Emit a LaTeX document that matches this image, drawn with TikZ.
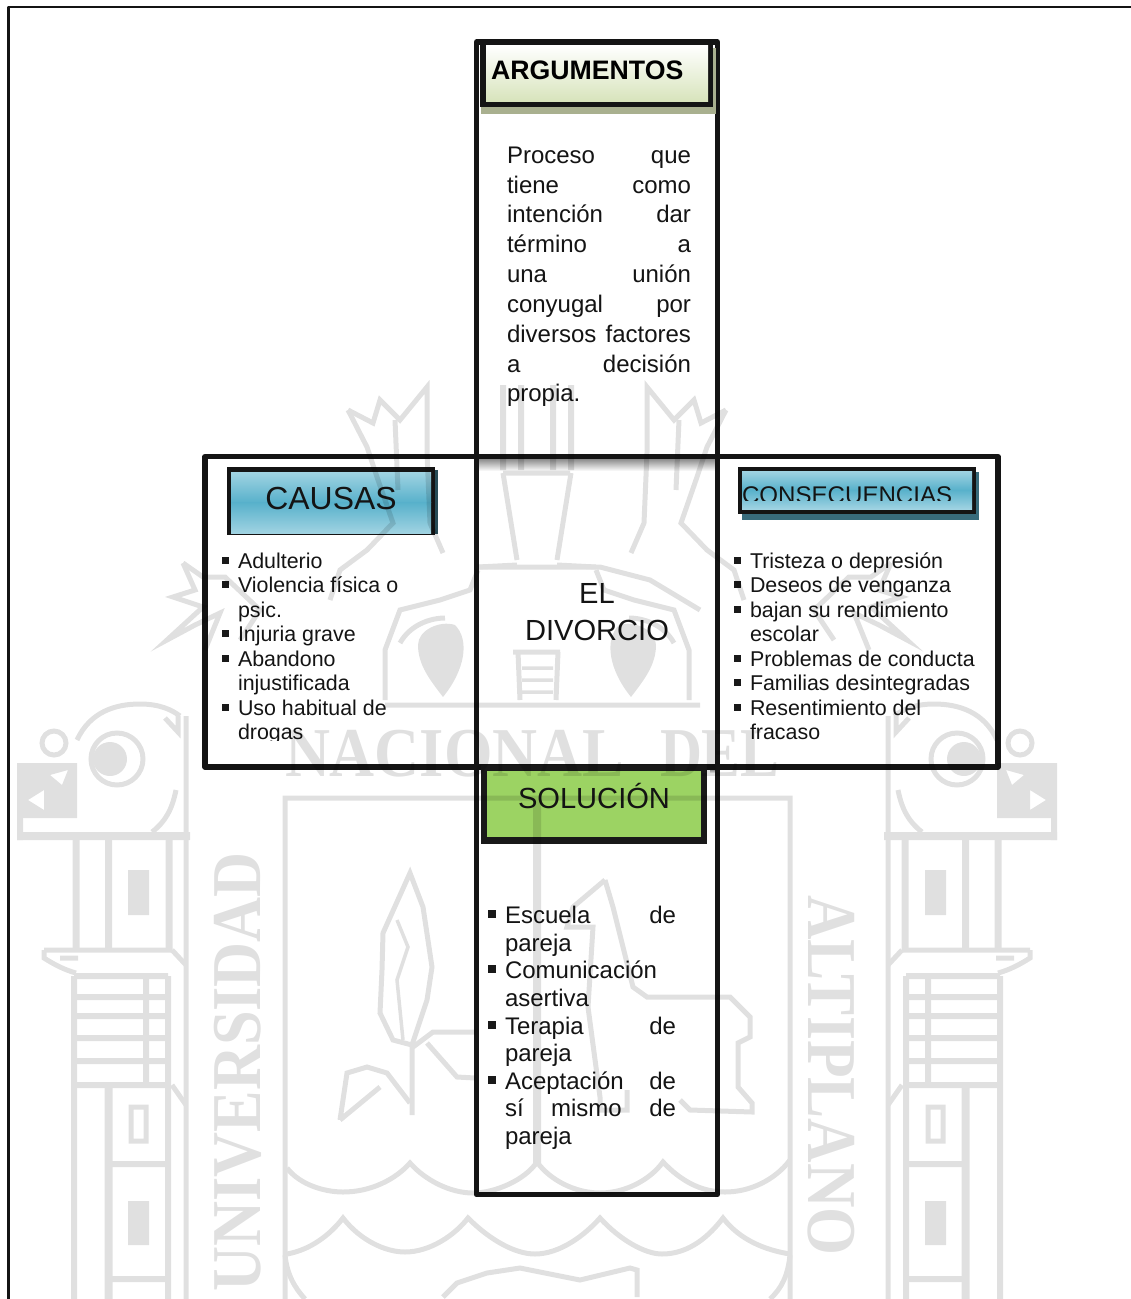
\documentclass[tikz,border=0pt]{standalone}
\usepackage{fontspec}
\setmainfont{Liberation Sans}
\newfontfamily\wmserif{Liberation Serif}
\tikzset{
  frameline/.style={draw=black!92,line width=5.2pt,line join=round},
  txt/.style={inner sep=0pt,outer sep=0pt,anchor=base west,text=black!92},
  cen/.style={inner sep=0pt,outer sep=0pt,anchor=base,text=black!92},
  listl/.style={txt,font=\fontsize{21.4}{24}\selectfont},
  paral/.style={txt,font=\fontsize{24}{28}\selectfont,text width=184pt,align=left},
  soll/.style={txt,font=\fontsize{24}{28}\selectfont,text width=171pt,align=left},
  blt/.style={fill=black!90,draw=none,inner sep=0pt,minimum size=7pt,rectangle},
  wm/.style={draw=black,line width=5pt,line join=miter},
  wmf/.style={fill=black,draw=none},
  wmt/.style={inner sep=0pt,outer sep=0pt,text=black,font=\wmserif\bfseries\fontsize{70}{70}\selectfont}
}
\definecolor{blueA}{HTML}{A0D3E2}
\definecolor{blueB}{HTML}{58B1CB}
\definecolor{oliveS}{HTML}{A9B08F}
\definecolor{olivE}{HTML}{D8E4BC}
\definecolor{tealS}{HTML}{386B7B}
\definecolor{greenS}{HTML}{9CD363}
\newcommand{\wmpillar}{%
  \draw[wm] (54,743) circle (12);
  \draw[wm] (117,759) circle (26);
  \fill[wmf] (110,759) circle (17);
  \fill[wmf,even odd rule] (17,763) rectangle (77,818) (28,800) -- (44,790) -- (44,810) -- cycle (50,775) -- (68,770) -- (62,785) -- cycle;
  \fill[wmf] (17,818) rectangle (23,840);
  \fill[wmf] (17,832) rectangle (190,840);
  \draw[wm] (77,740) .. controls (90,712) and (115,704) .. (140,704) .. controls (160,704) and (172,710) .. (180,716);
  \draw[wm] (165,718) -- (178,732) -- (178,716);
  \draw[wm] (176,790) .. controls (172,810) and (165,822) .. (152,832);
  \draw[wm] (186,716) -- (186,1299);
  \foreach \xx in {76,108.5,169} \draw[wm,line width=7pt] (\xx,840) -- (\xx,950);
  \fill[wmf] (128,870) rectangle (149,915);
  \draw[wm] (44,950) -- (172,950);
  \draw[wm] (44,950) -- (44,958) .. controls (55,965) and (65,970) .. (76,973);
  \draw[wm] (60,958) -- (78,958);
  \draw[wm] (172,950) -- (186,965);
  \draw[wm] (172,1085) -- (186,1105);
  \draw[wm,line width=6pt] (74,976) -- (168,976) (74,997) -- (168,997) (74,1016) -- (168,1016) (74,1038) -- (168,1038) (74,1061) -- (168,1061) (74,1085) -- (168,1085);
  \draw[wm,line width=6pt] (146,976) -- (146,1085);
  \draw[wm,line width=6pt] (74,976) -- (74,1299) (168,976) -- (168,1299);
  \draw[wm,line width=8pt] (108.5,1085) -- (108.5,1299);
  \draw[wm,line width=6pt] (112,1164) -- (166,1164) (112,1279) -- (166,1279);
  \draw[wm] (131,1107) rectangle (146,1141);
  \fill[wmf] (128,1201) rectangle (149,1245);
  % crest half
  \draw[wm] (348,410) -- (373,423) -- (380,400) -- (400,420) -- (427,387) -- (427,453) -- (430,523) -- (443,553);
  \draw[wm] (348,410) -- (367,447) -- (377,477) -- (393,523) -- (367,550) -- (340,570) -- (330,600);
  \draw[wm] (395,420) -- (398,490);
  \draw[wm,line width=6pt] (503,385) -- (503,470) (521,385) -- (521,470);
  \draw[wm] (503,473) -- (517,560) (517,565) -- (478,567);
  \draw[wm] (478,570) -- (470,590) -- (440,600) -- (400,610) -- (385,650) -- (385,700);
  \draw[wm] (183,563) -- (203,577) -- (225,577) -- (260,610) -- (240,640);
  \draw[wm] (183,563) -- (195,590) -- (173,597) -- (203,607) -- (167,640) -- (195,625) -- (220,613) -- (205,650);
  \fill[wmf] (455,625) .. controls (470,640) and (465,670) .. (443,697) .. controls (430,680) and (418,665) .. (418,645) .. controls (418,630) and (440,620) .. cycle;
  \draw[wm] (400,643) .. controls (410,625) and (430,618) .. (445,618);
}
\begin{document}
\begin{tikzpicture}[x=1pt,y=-1pt]
\useasboundingbox (0,0) rectangle (1131,1299);
\fill[white] (0,0) rectangle (1131,1299);
% outer frame
\draw[draw=black!92,line width=2.6pt,line join=round] (8.5,1299) -- (8.5,7) -- (1131,7);
% soft shadows
\shade[top color=black!45,bottom color=white] (479,459) rectangle (715,471);
\shade[top color=black!45,bottom color=white] (710,769) rectangle (716,773);
% cross boxes
\node[frameline,inner sep=0pt,minimum width=241pt,minimum height=1152.5pt,rectangle] (vbox) at (597,618.25) {};
\node[frameline,inner sep=0pt,minimum width=793pt,minimum height=310.5pt,rectangle] (hbox) at (601.5,611.75) {};
% ARGUMENTOS
\fill[oliveS] (481,106) rectangle (716,114);
\fill[oliveS] (712,48) rectangle (716,114);
\fill[black!92] (480,42) rectangle (713,107);
\node[inner sep=0pt,minimum width=222pt,minimum height=56pt,rectangle,top color=white,bottom color=olivE] (arghead) at (597,73) {};
\node[txt,font=\bfseries\fontsize{26.7}{30}\selectfont,text=black] (argt) at (491,79) {ARGUMENTOS};
% CAUSAS
\fill[tealS!70!black] (431,470) rectangle (438,534);
\fill[black!92] (227,467) rectangle (435,535);
\node[inner sep=0pt,minimum width=200pt,minimum height=30.5pt,rectangle,top color=blueA,bottom color=blueB] (caushA) at (331,487.25) {};
\node[inner sep=0pt,minimum width=200pt,minimum height=30.5pt,rectangle,top color=blueB,bottom color=blueA] (caushB) at (331,517.75) {};
\node[cen,font=\fontsize{31.9}{34}\selectfont] (caust) at (331,509) {CAUSAS};
% CONSECUENCIAS
\fill[tealS] (742,472) rectangle (979,520);
\fill[black!92] (738,467) rectangle (976,514);
\node[inner sep=0pt,minimum width=230pt,minimum height=19pt,rectangle,top color=blueA,bottom color=blueB] (conshA) at (857,480.5) {};
\node[inner sep=0pt,minimum width=230pt,minimum height=19pt,rectangle,top color=blueB,bottom color=blueA] (conshB) at (857,499.5) {};
\begin{scope}
\clip (740,470) rectangle (975,500);
\node[txt,font=\fontsize{24.1}{27}\selectfont] (const) at (742,503) {CONSECUENCIAS};
\end{scope}
% SOLUCION
\fill[black!90] (481,765) rectangle (707,844);
\node[inner sep=0pt,minimum width=214pt,minimum height=66pt,rectangle,fill=greenS] (solh) at (594,804) {};
\node[cen,font=\fontsize{29.1}{32}\selectfont] (solt) at (594,808) {SOLUCIÓN};
% centre
\node[cen,font=\fontsize{29.1}{32}\selectfont] (el) at (597,603) {EL};
\node[cen,font=\fontsize{29.1}{32}\selectfont] (div) at (597,640) {DIVORCIO};
% paragraph
\node[paral] (p1) at (507,163) {Proceso\hfill que};
\node[paral] (p2) at (507,193) {tiene\hfill como};
\node[paral] (p3) at (507,222) {intención\hfill dar};
\node[paral] (p4) at (507,252) {término\hfill a};
\node[paral] (p5) at (507,282) {una\hfill unión};
\node[paral] (p6) at (507,312) {conyugal\hfill por};
\node[paral] (p7) at (507,342) {diversos\hfill factores};
\node[paral] (p8) at (507,372) {a\hfill decisión};
\node[paral] (p9) at (507,401) {propia.};
% left list
\node[blt] (lb1) at (225,560) {};
\node[blt] (lb2) at (225,584) {};
\node[blt] (lb3) at (225,633) {};
\node[blt] (lb4) at (225,658) {};
\node[blt] (lb5) at (225,707) {};
\node[listl] (l1) at (238,568) {Adulterio};
\node[listl] (l2) at (238,592) {Violencia física o};
\node[listl] (l3) at (238,617) {psic.};
\node[listl] (l4) at (238,641) {Injuria grave};
\node[listl] (l5) at (238,666) {Abandono};
\node[listl] (l6) at (238,690) {injustificada};
\node[listl] (l7) at (238,715) {Uso habitual de};
\begin{scope}
\clip (230,720) rectangle (400,740);
\node[listl] (l8) at (238,739) {drogas};
\end{scope}
% right list
\node[blt] (rb1) at (737,560) {};
\node[blt] (rb2) at (737,584) {};
\node[blt] (rb3) at (737,609) {};
\node[blt] (rb4) at (737,658) {};
\node[blt] (rb5) at (737,682) {};
\node[blt] (rb6) at (737,707) {};
\node[listl] (r1) at (750,568) {Tristeza o depresión};
\node[listl] (r2) at (750,592) {Deseos de venganza};
\node[listl] (r3) at (750,617) {bajan su rendimiento};
\node[listl] (r4) at (750,641) {escolar};
\node[listl] (r5) at (750,666) {Problemas de conducta};
\node[listl] (r6) at (750,690) {Familias desintegradas};
\node[listl] (r7) at (750,715) {Resentimiento del};
\node[listl] (r8) at (750,739) {fracaso};
% bottom list
\node[blt,minimum size=8pt] (sb1) at (492,914) {};
\node[blt,minimum size=8pt] (sb2) at (492,969) {};
\node[blt,minimum size=8pt] (sb3) at (492,1025) {};
\node[blt,minimum size=8pt] (sb4) at (492,1080) {};
\node[soll] (s1) at (505,923) {Escuela\hfill de};
\node[soll] (s2) at (505,951) {pareja};
\node[soll] (s3) at (505,978) {Comunicación};
\node[soll] (s4) at (505,1006) {asertiva};
\node[soll] (s5) at (505,1034) {Terapia\hfill de};
\node[soll] (s6) at (505,1061) {pareja};
\node[soll] (s7) at (505,1089) {Aceptación\hfill de};
\node[soll] (s8) at (505,1116) {sí\hfill mismo\hfill de};
\node[soll] (s9) at (505,1144) {pareja};
% watermark
\begin{scope}[transparency group,opacity=.12]
\clip (0,0) rectangle (1131,1299);
\wmpillar
\begin{scope}[shift={(1074,0)},xscale=-1]
\wmpillar
\end{scope}
\draw[wm] (285,1299) -- (285,798) -- (790,798) -- (790,1299);
\draw[wm,line width=8pt] (537,800) -- (537,1163);
\draw[wm] (287,1168) .. controls (300,1185) and (325,1192) .. (343,1192) .. controls (370,1192) and (395,1180) .. (410,1163) .. controls (425,1180) and (450,1193) .. (473,1193) .. controls (495,1193) and (525,1180) .. (537,1162) .. controls (550,1180) and (575,1193) .. (600,1193) .. controls (625,1193) and (650,1180) .. (663,1162) .. controls (680,1180) and (700,1192) .. (725,1192) .. controls (750,1192) and (775,1180) .. (790,1160);
\draw[wm] (287,1254) .. controls (310,1250) and (330,1235) .. (343,1218) .. controls (360,1240) and (385,1252) .. (405,1252) .. controls (430,1252) and (455,1235) .. (468,1218) .. controls (490,1240) and (515,1254) .. (535,1254) .. controls (560,1254) and (585,1235) .. (600,1218) .. controls (620,1240) and (645,1254) .. (662,1254) .. controls (690,1254) and (710,1235) .. (723,1218) .. controls (740,1240) and (765,1250) .. (790,1254);
\draw[wm] (285,1255) .. controls (287,1275) and (295,1288) .. (305,1299);
\draw[wm] (790,1255) .. controls (788,1275) and (782,1288) .. (770,1299);
\draw[wm] (443,1297) -- (457,1283) -- (487,1273) -- (520,1268) -- (580,1280) -- (630,1268) -- (637,1270) -- (637,1297);
% plant
\draw[wm] (410,873) -- (423,907) -- (432,967) -- (427,1000) -- (412,1045) -- (393,1040) -- (380,1013) -- (382,970) -- (383,933) -- cycle;
\draw[wm,line width=3.5pt] (397,920) -- (408,947) -- (397,980) -- (403,1040);
\draw[wm] (412,1045) -- (412,1115);
\draw[wm] (340,1120) -- (347,1073) -- (367,1067) -- (387,1073) -- (410,1103) (340,1120) -- (380,1087);
\draw[wm] (413,1047) -- (433,1032) -- (475,1032) (427,1043) -- (457,1077) -- (475,1078);
% llama
\draw[wm] (605,880) -- (573,907) -- (567,927) -- (593,927) -- (588,1007) -- (600,1097) -- (600,1110) -- (627,1110) -- (627,1090);
\draw[wm] (605,880) -- (613,907) -- (633,987) -- (647,997) -- (730,997) -- (750,1017) -- (750,1037) -- (738,1043) -- (738,1087) -- (752,1103) -- (752,1112) -- (690,1110) -- (680,1100);
% crest centre
\draw[wm] (503,473) -- (570,473);
\draw[wm] (513,652) -- (560,652);
\draw[wm,line width=3.5pt] (522,668) -- (553,668) (522,680) -- (553,680) (522,692) -- (553,692);
\draw[wm] (518,652) -- (520,700) (558,652) -- (556,700);
\draw[wm] (385,705) -- (700,705);
\draw[wm] (478,567) -- (600,567) -- (650,580) -- (700,610);
\node[wmt,anchor=base west,xscale=.89] (wna) at (285,776) {NACIONAL};
\node[wmt,anchor=base west,xscale=.83] (wde) at (660,776) {DEL};
\node[wmt,anchor=base east,rotate=90,xscale=.89] (wun) at (260,852) {UNIVERSIDAD};
\node[wmt,anchor=base west,rotate=-90,xscale=.88] (wal) at (808,895) {ALTIPLANO};
\end{scope}
\end{tikzpicture}
\end{document}
